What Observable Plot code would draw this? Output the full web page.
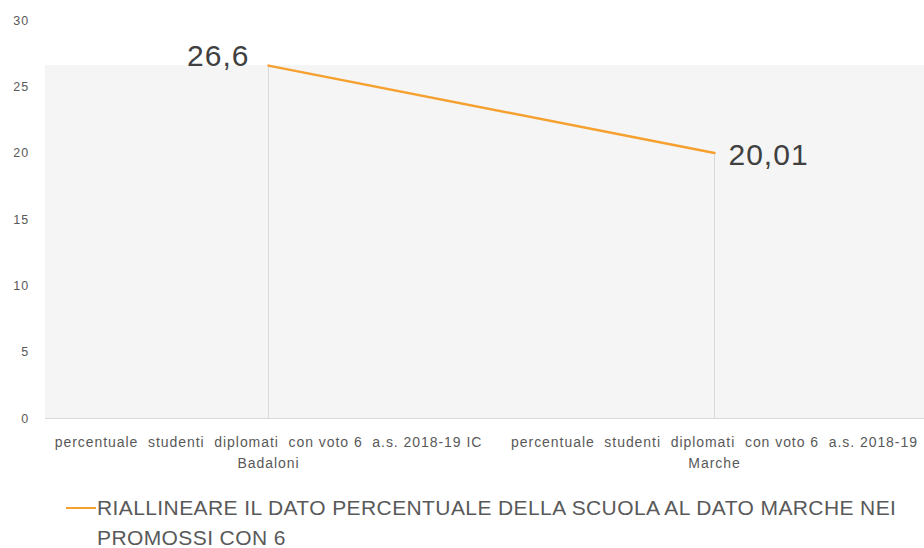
<!DOCTYPE html>
<html>
<head>
<meta charset="utf-8">
<script src="https://cdn.jsdelivr.net/npm/d3@7"></script>
<script src="https://cdn.jsdelivr.net/npm/@observablehq/plot@0.6"></script>
<style>
  html, body { margin: 0; padding: 0; background: #fff; }
  #chart svg text { white-space: pre; }
  #chart g[aria-label="x-axis tick label"] text { letter-spacing: 0.95px; }
  #chart g[aria-label="y-axis tick label"] text { letter-spacing: 1.2px; }
  #chart g[aria-label="text"] text { letter-spacing: 1px; }
  #legend {
    font-family: "Liberation Sans Narrow", "Liberation Sans", sans-serif;
    font-size: 21px; letter-spacing: 0.4px; color: #595959; line-height: 30px;
    position: relative; padding-left: 97px; padding-right: 10px; margin-top: 18px;
  }
  #legend .sw { position: absolute; left: 66px; top: 14px; width: 30px; height: 2px; background: #F5A02F; }
</style>
</head>
<body>
<div id="chart"></div>
<div id="legend"><span class="sw"></span>RIALLINEARE IL DATO PERCENTUALE DELLA SCUOLA AL DATO MARCHE NEI PROMOSSI CON 6</div>
<script>
const categories = [
  "percentuale  studenti  diplomati  con voto 6  a.s. 2018-19 IC\nBadaloni",
  "percentuale  studenti  diplomati  con voto 6  a.s. 2018-19\nMarche"
];
const values = [26.6, 20.01];
const valueLabels = ["26,6", "20,01"];
const yTicks = [0, 5, 10, 15, 20, 25, 30];

const data = categories.map((c, i) => ({cat: c, v: values[i], label: valueLabels[i]}));

const chart = Plot.plot({
  width: 924,
  height: 475,
  marginLeft: 45,
  marginRight: -13,
  marginTop: 20,
  marginBottom: 57,
  style: {fontFamily: "'Liberation Sans', sans-serif", background: "#fff"},
  x: {type: "band", domain: categories, padding: 0, label: null},
  y: {domain: [0, 30], ticks: yTicks, label: null},
  marks: [
    Plot.rectY([{}], {y1: 0, y2: d3.max(values), fill: "#f5f5f5"}),
    Plot.ruleY([0], {stroke: "#d9d9d9"}),
    Plot.ruleX(data, {x: "cat", y1: 0, y2: "v", stroke: "#d9d9d9", strokeWidth: 1}),
    Plot.line(data, {x: "cat", y: "v", stroke: "#F5A02F", strokeWidth: 2.5}),
    Plot.axisY({ticks: yTicks, tickSize: 0, tickPadding: 0, dx: -16, fontSize: 12.5, color: "#595959", textAnchor: "end", tickFormat: d => String(d)}),
    Plot.axisX({tickSize: 0, tickPadding: 14, fontSize: 14, color: "#595959", lineHeight: 1.5}),
    Plot.text(data.slice(0, 1), {x: "cat", y: "v", text: "label", textAnchor: "end", dx: -19, dy: -9, fontSize: 30, fill: "#404040"}),
    Plot.text(data.slice(1), {x: "cat", y: "v", text: "label", textAnchor: "start", dx: 14, dy: 2, fontSize: 30, fill: "#404040"})
  ]
});
document.getElementById("chart").appendChild(chart);
</script>
</body>
</html>
